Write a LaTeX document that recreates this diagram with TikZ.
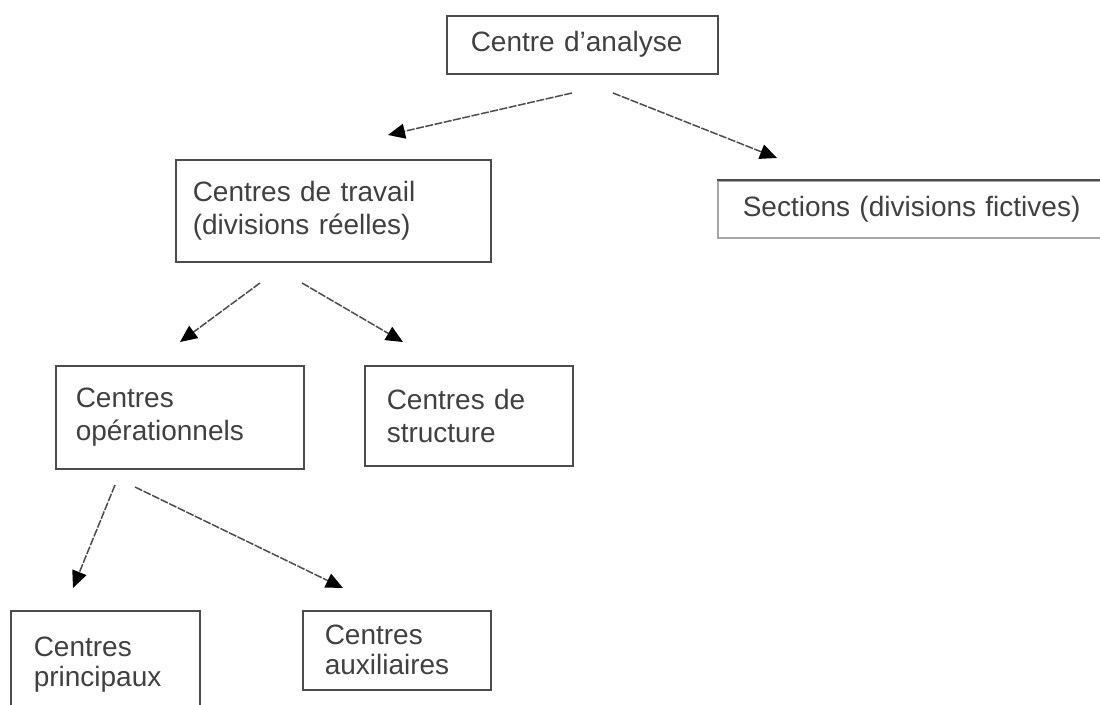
\documentclass[tikz,border=0pt]{standalone}
\usepackage{fontspec}
\setmainfont{Liberation Sans}
\usetikzlibrary{shapes, arrows.meta, positioning}

\begin{document}
\begin{tikzpicture}[x=1pt, y=-1pt, font=\fontsize{28}{33}\selectfont]
    \tikzstyle{block} = [rectangle, draw=black!70, line width=1.5pt, text=black!75, anchor=north west, align=left, inner ysep=0pt]
    \tikzstyle{arrow} = [black!70, line width=1.5pt, dash pattern=on 8pt off 1.5pt, -{Triangle[length=17pt, width=15pt, black]}]

    \useasboundingbox (0,0) rectangle (1100,704);

    \node [block, minimum width=271pt, minimum height=58pt, inner xsep=24pt, text width=223pt] (ana) at (446,15) {Centre d'analyse};
    \node [block, draw=black!35, minimum width=400pt, minimum height=57pt, inner xsep=25pt, text width=350pt] (sec) at (717,180) {Sections (divisions fictives)};
    \node [block, minimum width=315pt, minimum height=102pt, inner xsep=17pt, text width=281pt] (trav) at (175,159) {Centres de travail\\(divisions réelles)};
    \node [block, minimum width=248pt, minimum height=103pt, inner xsep=20pt, text width=208pt] (oper) at (55,365) {Centres\\opérationnels};
    \node [block, minimum width=208pt, minimum height=100pt, inner xsep=22pt, text width=164pt] (struct) at (364,365) {Centres de\\structure};
    \node [block, font=\fontsize{28}{30}\selectfont, minimum width=189pt, minimum height=108pt, inner xsep=23pt, text width=143pt] (princ) at (10,610) {Centres\\principaux};
    \node [block, font=\fontsize{28}{30}\selectfont, minimum width=188pt, minimum height=79pt, inner xsep=22pt, text width=144pt] (aux) at (302,610) {Centres\\auxiliaires};

    \draw [black!70, line width=1.5pt] (sec.north west) -- (sec.north east);

    % loose ends of the arrows
    \coordinate (ana-l) at (572,93);
    \coordinate (trav-in) at (388,135);
    \coordinate (ana-r) at (613,93);
    \coordinate (sec-in) at (777,158);
    \coordinate (trav-l) at (260,283);
    \coordinate (oper-in) at (180,342);
    \coordinate (trav-r) at (302,283);
    \coordinate (struct-in) at (403,342);
    \coordinate (oper-l) at (115,485);
    \coordinate (princ-in) at (73,588);
    \coordinate (oper-r) at (135,487);
    \coordinate (aux-in) at (343,588);

    \draw [arrow] (ana-l) -- (trav-in);
    \draw [arrow] (ana-r) -- (sec-in);
    \draw [arrow] (trav-l) -- (oper-in);
    \draw [arrow] (trav-r) -- (struct-in);
    \draw [arrow] (oper-l) -- (princ-in);
    \draw [arrow] (oper-r) -- (aux-in);
\end{tikzpicture}
\end{document}
